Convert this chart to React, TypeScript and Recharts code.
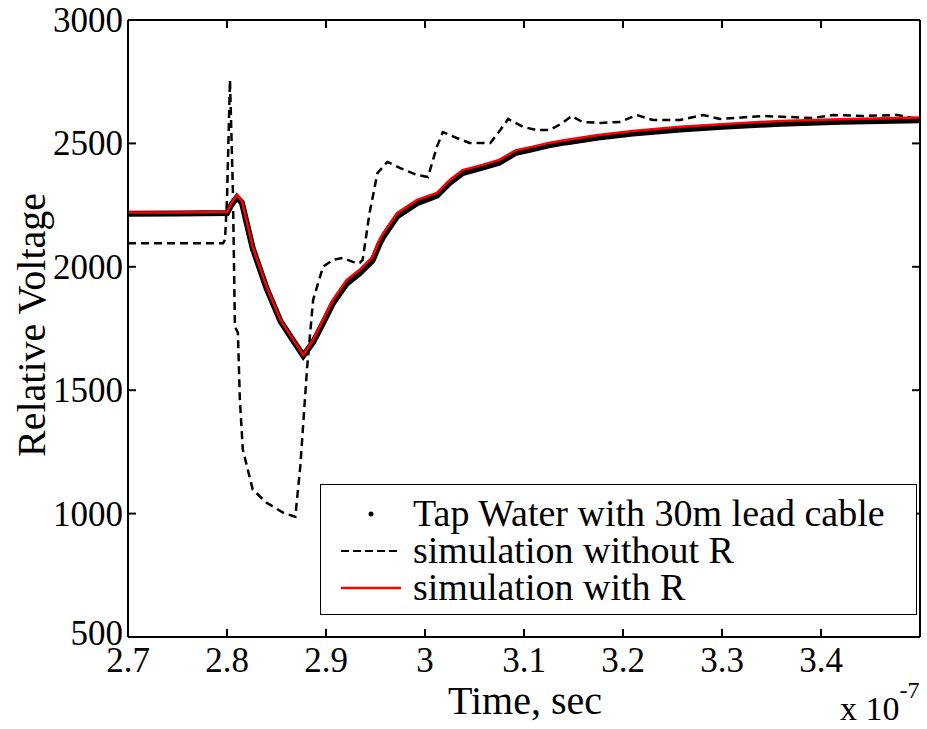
import React from "react";
import { LineChart, Line, XAxis, YAxis } from "recharts";

// time in units of 1e-7 s
const measuredT = [2.7, 2.75, 2.8, 2.805, 2.81, 2.815, 2.826, 2.84, 2.854, 2.867, 2.877, 2.887, 2.897, 2.907, 2.921, 2.934, 2.947, 2.954, 2.958, 2.972, 2.992, 3.012, 3.025, 3.038, 3.058, 3.075, 3.092, 3.108, 3.125, 3.142, 3.175, 3.21, 3.258, 3.3, 3.359, 3.42, 3.5];
const measuredV = [2215, 2216, 2218, 2255, 2282, 2260, 2075, 1912, 1780, 1700, 1640, 1695, 1772, 1852, 1932, 1974, 2025, 2092, 2122, 2205, 2258, 2288, 2340, 2380, 2402, 2422, 2462, 2476, 2492, 2504, 2524, 2540, 2556, 2567, 2580, 2588, 2594];

const noRT = [2.7, 2.796, 2.798, 2.8, 2.803, 2.806, 2.808, 2.811, 2.813, 2.816, 2.826, 2.84, 2.857, 2.869, 2.874, 2.881, 2.887, 2.897, 2.907, 2.917, 2.927, 2.934, 2.937, 2.944, 2.952, 2.962, 2.975, 2.992, 3.003, 3.012, 3.018, 3.032, 3.045, 3.066, 3.076, 3.084, 3.099, 3.113, 3.126, 3.139, 3.148, 3.159, 3.177, 3.197, 3.214, 3.23, 3.258, 3.281, 3.298, 3.341, 3.392, 3.412, 3.442, 3.477, 3.493, 3.5];
const noRV = [2095, 2095, 2110, 2275, 2757, 2300, 1757, 1733, 1461, 1259, 1097, 1044, 1003, 987, 1190, 1595, 1866, 2000, 2028, 2036, 2020, 2016, 2028, 2218, 2380, 2425, 2400, 2372, 2364, 2486, 2546, 2522, 2502, 2502, 2554, 2599, 2567, 2554, 2554, 2583, 2611, 2587, 2583, 2587, 2615, 2595, 2595, 2615, 2599, 2611, 2603, 2615, 2611, 2615, 2603, 2600];

const withRT = [2.7, 2.75, 2.8, 2.805, 2.81, 2.815, 2.826, 2.84, 2.854, 2.867, 2.877, 2.887, 2.897, 2.907, 2.921, 2.934, 2.947, 2.954, 2.958, 2.972, 2.992, 3.012, 3.025, 3.038, 3.058, 3.075, 3.092, 3.108, 3.125, 3.142, 3.175, 3.21, 3.258, 3.3, 3.359, 3.42, 3.5];
const withRV = [2220, 2220, 2222, 2262, 2291, 2268, 2081, 1919, 1785, 1704, 1643, 1704, 1785, 1866, 1947, 1988, 2040, 2109, 2137, 2218, 2271, 2299, 2352, 2392, 2413, 2433, 2473, 2486, 2502, 2514, 2534, 2550, 2567, 2578, 2591, 2598, 2605];

const xTicks = [2.7, 2.8, 2.9, 3.0, 3.1, 3.2, 3.3, 3.4];
const yTicks = [500, 1000, 1500, 2000, 2500, 3000];

const zip = (t: number[], v: number[]) => t.map((x, i) => ({ t: x, v: v[i] }));
const measured = zip(measuredT, measuredV);
const noR = zip(noRT, noRV);
const withR = zip(withRT, withRV);

const FONT = "'Liberation Serif', 'Times New Roman', serif";

const BottomTick = (p: any) => (
  <g>
    <line x1={p.x} y1={p.y} x2={p.x} y2={p.y - 8} stroke="#000" strokeWidth={2} />
    <text x={p.x} y={p.y + 35} textAnchor="middle" fontSize={35} fontFamily={FONT} fill="#000">
      {p.payload.value}
    </text>
  </g>
);
const TopTick = (p: any) => (
  <line x1={p.x} y1={p.y} x2={p.x} y2={p.y + 8} stroke="#000" strokeWidth={2} />
);
const LeftTick = (p: any) => (
  <g>
    <line x1={p.x} y1={p.y} x2={p.x + 8} y2={p.y} stroke="#000" strokeWidth={2} />
    <text
      x={p.x - 5}
      y={p.y + (p.payload.value === 500 ? 8 : 12)}
      textAnchor="end"
      fontSize={35}
      fontFamily={FONT}
      fill="#000"
    >
      {p.payload.value}
    </text>
  </g>
);
const RightTick = (p: any) => (
  <line x1={p.x} y1={p.y} x2={p.x - 8} y2={p.y} stroke="#000" strokeWidth={2} />
);

const legendItems = [
  { name: "Tap Water with 30m lead cable", kind: "dot" },
  { name: "simulation without R", kind: "dash" },
  { name: "simulation with R", kind: "red" },
];

const LegendBox = () => (
  <div
    style={{
      position: "absolute",
      left: 320,
      top: 484,
      width: 597,
      height: 131,
      boxSizing: "border-box",
      border: "1px solid #000",
      background: "#fff",
      fontFamily: FONT,
      fontSize: 38,
      lineHeight: "37px",
      paddingTop: 10,
    }}
  >
    {legendItems.map((e) => (
      <div key={e.name} style={{ display: "flex", alignItems: "center", height: 37 }}>
        <svg width={92} height={20} style={{ flex: "none" }}>
          {e.kind === "dot" && <circle cx={50} cy={10} r={2.5} fill="#000" />}
          {e.kind === "dash" && (
            <line x1={20} y1={10} x2={80} y2={10} stroke="#000" strokeWidth={2} strokeDasharray="8 4" />
          )}
          {e.kind === "red" && <line x1={20} y1={10} x2={80} y2={10} stroke="#f00" strokeWidth={2.5} />}
        </svg>
        <span style={{ whiteSpace: "nowrap" }}>{e.name}</span>
      </div>
    ))}
  </div>
);

export default function App() {
  return (
    <div style={{ position: "absolute", left: 0, top: 0, width: 927, height: 729, background: "#fff" }}>
      <LineChart width={927} height={729} margin={{ top: 19, right: 6, bottom: 91, left: 127 }}>
        <XAxis
          dataKey="t"
          type="number"
          domain={[2.7, 3.5]}
          ticks={xTicks}
          allowDataOverflow
          height={1}
          tickSize={0}
          tickMargin={0}
          tickLine={false}
          axisLine={{ stroke: "#000", strokeWidth: 2 }}
          tick={<BottomTick />}
        />
        <XAxis
          xAxisId="top"
          orientation="top"
          dataKey="t"
          type="number"
          domain={[2.7, 3.5]}
          ticks={xTicks}
          allowDataOverflow
          height={1}
          tickSize={0}
          tickMargin={0}
          tickLine={false}
          axisLine={{ stroke: "#000", strokeWidth: 2 }}
          tick={<TopTick />}
        />
        <YAxis
          type="number"
          domain={[500, 3000]}
          ticks={yTicks}
          allowDataOverflow
          width={1}
          tickSize={0}
          tickMargin={0}
          tickLine={false}
          axisLine={{ stroke: "#000", strokeWidth: 2 }}
          tick={<LeftTick />}
        />
        <YAxis
          yAxisId="right"
          orientation="right"
          type="number"
          domain={[500, 3000]}
          ticks={yTicks}
          allowDataOverflow
          width={1}
          tickSize={0}
          tickMargin={0}
          tickLine={false}
          axisLine={{ stroke: "#000", strokeWidth: 2 }}
          tick={<RightTick />}
        />
        <Line
          data={measured}
          dataKey="v"
          name="Tap Water with 30m lead cable"
          stroke="#000"
          strokeWidth={6}
          dot={false}
          type="linear"
          isAnimationActive={false}
        />
        <Line
          data={noR}
          dataKey="v"
          name="simulation without R"
          stroke="#000"
          strokeWidth={2.5}
          strokeDasharray="8 5"
          dot={false}
          type="linear"
          isAnimationActive={false}
        />
        <Line
          data={withR}
          dataKey="v"
          name="simulation with R"
          stroke="#f00"
          strokeWidth={2.5}
          dot={false}
          type="linear"
          isAnimationActive={false}
        />
      </LineChart>
      <LegendBox />
      <div
        style={{
          position: "absolute",
          left: 32,
          top: 325,
          transform: "translate(-50%, -50%) rotate(-90deg)",
          fontFamily: FONT,
          fontSize: 40,
          lineHeight: 1,
          whiteSpace: "nowrap",
        }}
      >
        Relative Voltage
      </div>
      <div
        style={{
          position: "absolute",
          left: 525,
          top: 681,
          transform: "translateX(-50%)",
          fontFamily: FONT,
          fontSize: 40,
          lineHeight: 1,
          whiteSpace: "nowrap",
        }}
      >
        Time, sec
      </div>
      <div
        style={{
          position: "absolute",
          left: 840,
          top: 692,
          fontFamily: FONT,
          fontSize: 34,
          lineHeight: 1,
          whiteSpace: "nowrap",
        }}
      >
        x 10<span style={{ fontSize: 24, position: "relative", top: -22 }}>-7</span>
      </div>
    </div>
  );
}
